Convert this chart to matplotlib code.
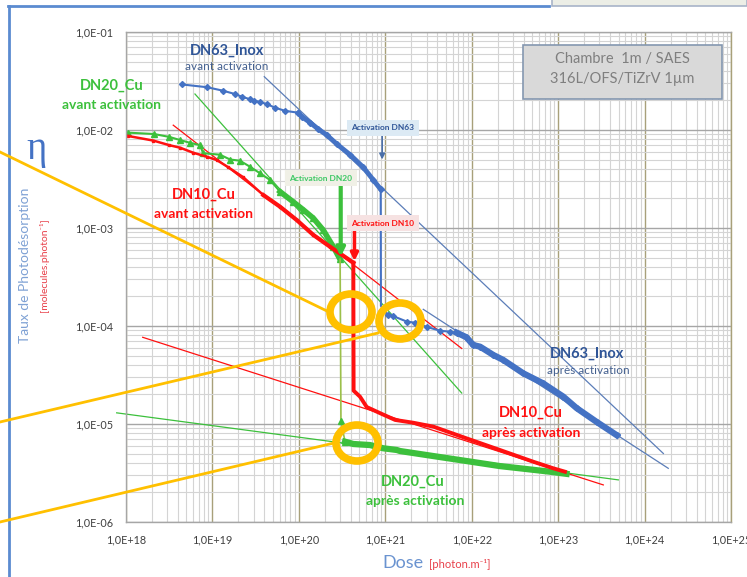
import matplotlib
matplotlib.use("Agg")
import matplotlib.pyplot as plt
import matplotlib.ticker as ticker
from matplotlib.patches import Ellipse, Rectangle
from matplotlib.lines import Line2D
import numpy as np

plt.rcParams['font.family'] = ['Lato', 'DejaVu Sans']

# ---------------------------------------------------------------
# Data (dose in photon/m, eta in molecules/photon)
# ---------------------------------------------------------------
dn63_avant_x = [4.4e18, 8.7e18, 1.32e19, 1.82e19, 2.18e19, 2.72e19, 3.05e19, 3.55e19,
                4.24e19, 5.3e19, 6.9e19, 9.9e19, 1.08e20, 1.35e20, 1.68e20, 2.1e20,
                2.74e20, 3.91e20, 5.57e20, 7.27e20, 8.85e20]
dn63_avant_y = [2.92e-2, 2.73e-2, 2.52e-2, 2.33e-2, 2.19e-2, 2.06e-2, 1.99e-2, 1.93e-2,
                1.84e-2, 1.69e-2, 1.57e-2, 1.50e-2, 1.37e-2, 1.19e-2, 1.02e-2, 8.9e-3,
                7.2e-3, 5.6e-3, 4.16e-3, 3.09e-3, 2.48e-3]
dn63_apres_x = [8.9e20, 1.08e21, 1.24e21, 1.77e21, 2.21e21, 3.02e21, 4.3e21, 5.6e21,
                6.7e21, 8.7e21, 1.04e22, 1.25e22, 1.78e22, 2.32e22, 3.95e22, 6.7e22,
                1.15e23, 1.64e23, 2.79e23, 4.75e23]
dn63_apres_y = [1.6e-4, 1.29e-4, 1.26e-4, 1.11e-4, 1.08e-4, 9.8e-5, 8.95e-5, 8.75e-5,
                8.55e-5, 7.67e-5, 6.4e-5, 6.15e-5, 5.06e-5, 4.5e-5, 3.29e-5, 2.6e-5,
                1.9e-5, 1.45e-5, 1.05e-5, 7.7e-6]

dn20_avant_x = [1.05e18, 2.11e18, 3.17e18, 4.22e18, 5.5e18, 7.2e18, 7.8e18, 1.22e19,
                1.6e19, 2.08e19, 2.72e19, 3.55e19, 4.64e19, 6.05e19, 8.6e19, 1.13e20,
                1.47e20, 1.92e20, 2.5e20, 2.99e20]
dn20_avant_y = [9.4e-3, 9.1e-3, 8.5e-3, 7.9e-3, 7.4e-3, 7.0e-3, 5.8e-3, 5.6e-3,
                5.0e-3, 4.86e-3, 4.22e-3, 3.62e-3, 3.09e-3, 2.35e-3, 1.85e-3, 1.53e-3,
                1.26e-3, 9.5e-4, 6.45e-4, 4.8e-4]
dn20_apres_x = [3.0e20, 3.07e20, 3.42e20, 4.27e20, 6.65e20, 9.5e20, 1.36e21, 1.48e21,
                3.59e21, 8.7e21, 2.12e22, 3.62e22, 8.05e22, 1.25e23]
dn20_apres_y = [4.8e-4, 1.08e-5, 6.6e-6, 6.25e-6, 6.1e-6, 5.65e-6, 5.43e-6, 5.3e-6,
                4.71e-6, 4.19e-6, 3.72e-6, 3.53e-6, 3.26e-6, 3.1e-6]

dn10_avant_x = [1.05e18, 2.07e18, 3.17e18, 4.22e18, 6.0e18, 8.6e18, 1.12e19, 1.53e19,
                2.28e19, 3.88e19, 6.05e19, 9.4e19, 1.47e20, 2.29e20, 4.27e20]
dn10_avant_y = [8.7e-3, 7.8e-3, 7.0e-3, 6.6e-3, 5.86e-3, 5.34e-3, 4.94e-3, 4.16e-3,
                3.29e-3, 2.17e-3, 1.65e-3, 1.21e-3, 8.5e-4, 6.45e-4, 4.43e-4]
dn10_apres_x = [4.27e20, 4.3e20, 5.1e20, 6.1e20, 8.7e20, 1.3e21, 2.11e21, 3.6e21,
                8.7e21, 2.12e22, 5.16e22, 8.8e22, 1.2e23]
dn10_apres_y = [4.43e-4, 2.19e-5, 1.9e-5, 1.49e-5, 1.29e-5, 1.1e-5, 1.03e-5, 9.4e-6,
                7.14e-6, 5.43e-6, 4.12e-6, 3.53e-6, 3.26e-6]

# power-law trend lines (end points)
fit_dn63_avant = ([3.98e19, 1.65e24], [3.5e-2, 5.0e-6])
fit_dn63_apres = ([2.75e21, 1.88e24], [1.48e-4, 3.53e-6])
fit_dn20_avant = ([6.28e18, 7.66e21], [2.33e-2, 2.07e-5])
fit_dn20_apres = ([7.8e17, 4.97e23], [1.30e-5, 2.69e-6])
fit_dn10_avant = ([3.52e18, 7.66e21], [1.12e-2, 5.9e-5])
fit_dn10_apres = ([1.56e18, 3.33e23], [7.67e-5, 2.39e-6])

BLUE = '#4472C4'
GREEN = '#3CC03C'
RED = '#FF1010'
ORANGE = '#FFC000'

W, H = 747, 577
fig = plt.figure(figsize=(W / 100, H / 100), dpi=100)


def fx(x):
    return x / W


def fy(y):
    return 1 - y / H


ax = fig.add_axes([fx(126), fy(522), fx(731) - fx(126), fy(32) - fy(522)])
ax.set_xscale('log')
ax.set_yscale('log')
ax.set_xlim(1e18, 1e25)
ax.set_ylim(1e-6, 1e-1)

ax.xaxis.set_major_locator(ticker.LogLocator(base=10, numticks=20))
ax.yaxis.set_major_locator(ticker.LogLocator(base=10, numticks=20))
ax.xaxis.set_minor_locator(ticker.LogLocator(base=10, subs=np.arange(2, 10), numticks=20))
ax.yaxis.set_minor_locator(ticker.LogLocator(base=10, subs=np.arange(2, 10), numticks=20))
fmt = ticker.FuncFormatter(lambda v, p: '1,0E%+03d' % int(round(np.log10(v))))
ax.xaxis.set_major_formatter(fmt)
ax.yaxis.set_major_formatter(fmt)
ax.xaxis.set_minor_formatter(ticker.NullFormatter())
ax.yaxis.set_minor_formatter(ticker.NullFormatter())
ax.tick_params(which='both', length=0, labelsize=7.8, colors='#404040')
ax.tick_params(axis='x', pad=9)
ax.tick_params(axis='y', pad=9)

ax.grid(True, which='minor', color='#D4D4D4', lw=0.8)
ax.grid(True, which='major', axis='y', color='#A6A6A6', lw=1.0)
ax.grid(True, which='major', axis='x', color='#A8A07A', lw=1.0)
ax.set_axisbelow(True)
for s in ax.spines.values():
    s.set_color('#A6A6A6')
    s.set_linewidth(1.0)
ax.spines['right'].set_color('#A8A07A')

# trend lines
ax.plot(*fit_dn63_avant, color='#5B7DB8', lw=0.9)
ax.plot(*fit_dn63_apres, color='#5B7DB8', lw=0.9)
ax.plot(*fit_dn20_avant, color=GREEN, lw=0.9)
ax.plot(*fit_dn20_apres, color=GREEN, lw=0.9, clip_on=False)
ax.plot(*fit_dn10_avant, color=RED, lw=0.9)
ax.plot(*fit_dn10_apres, color=RED, lw=0.9)

# DN63 Inox
ax.plot(dn63_avant_x, dn63_avant_y, color=BLUE, lw=1.5, marker='D', ms=3)
ax.plot(dn63_avant_x[11:], dn63_avant_y[11:], color=BLUE, lw=3.5)
ax.plot([dn63_avant_x[-1]] + dn63_apres_x, [dn63_avant_y[-1]] + dn63_apres_y,
        color=BLUE, lw=1.5, marker='D', ms=3, markevery=list(range(2, 21)))
ax.plot(dn63_apres_x[8:], dn63_apres_y[8:], color=BLUE, lw=4.5)

# DN20 Cu
ax.plot(dn20_avant_x, dn20_avant_y, color=GREEN, lw=1.5, marker='^', ms=5)
ax.plot(dn20_avant_x[13:], dn20_avant_y[13:], color=GREEN, lw=4)
ax.plot(dn20_apres_x[:3], dn20_apres_y[:3], color='#9CC04A', lw=1.2)
ax.plot(dn20_apres_x[1:3], dn20_apres_y[1:3], color=GREEN, lw=0, marker='^', ms=5)
ax.plot(dn20_apres_x[2:], dn20_apres_y[2:], color=GREEN, lw=4.5)

# DN10 Cu
ax.plot(dn10_avant_x, dn10_avant_y, color=RED, lw=1.8, marker='s', ms=2)
ax.plot(dn10_avant_x[9:], dn10_avant_y[9:], color=RED, lw=3)
ax.plot(dn10_apres_x, dn10_apres_y, color=RED, lw=2.8)

# arrows for activations
arrow_kw = dict(arrowstyle='-|>', shrinkA=0, shrinkB=0)
ax.annotate('', xy=(9.2e20, 5.0e-3), xytext=(9.2e20, 9.5e-3),
            arrowprops=dict(color='#4A6FA8', lw=1.2, mutation_scale=8, **arrow_kw))
ax.annotate('', xy=(3.05e20, 5.1e-4), xytext=(3.05e20, 3.0e-3),
            arrowprops=dict(color=GREEN, lw=3, mutation_scale=12, **arrow_kw))
ax.annotate('', xy=(4.4e20, 4.6e-4), xytext=(4.4e20, 1.0e-3),
            arrowprops=dict(color=RED, lw=2.5, mutation_scale=11, **arrow_kw))

# activation labels
fig.text(fx(383), fy(128), 'Activation DN63', fontsize=6, fontweight='bold', color='#2F5597',
         ha='center', va='center',
         bbox=dict(boxstyle='square,pad=0.5', fc='#DCEAF4', ec='none'))
fig.text(fx(321), fy(178), 'Activation DN20', fontsize=6, fontweight='bold', color='#3CC864',
         ha='center', va='center',
         bbox=dict(boxstyle='square,pad=0.5', fc='#F0F0E6', ec='none'))
fig.text(fx(383), fy(223), 'Activation DN10', fontsize=6, fontweight='bold', color=RED,
         ha='center', va='center',
         bbox=dict(boxstyle='square,pad=0.5', fc='#F6E2E2', ec='none'))

# series labels
fig.text(fx(227), fy(51), 'DN63_Inox', fontsize=10.5, fontweight='bold', color='#2F5597',
         ha='center', va='center')
fig.text(fx(227), fy(67), 'avant activation', fontsize=8.5, color='#44608F',
         ha='center', va='center')
fig.text(fx(112), fy(86), 'DN20_Cu', fontsize=10.5, fontweight='bold', color=GREEN,
         ha='center', va='center')
fig.text(fx(112), fy(105), 'avant activation', fontsize=10, fontweight='bold', color=GREEN,
         ha='center', va='center')
fig.text(fx(204), fy(195), 'DN10_Cu', fontsize=10.5, fontweight='bold', color=RED,
         ha='center', va='center')
fig.text(fx(204), fy(214), 'avant activation', fontsize=10, fontweight='bold', color=RED,
         ha='center', va='center')
fig.text(fx(587), fy(354), 'DN63_Inox', fontsize=10.5, fontweight='bold', color='#2F5597',
         ha='center', va='center')
fig.text(fx(588), fy(371), 'après activation', fontsize=8.5, color='#44608F',
         ha='center', va='center')
fig.text(fx(531), fy(413), 'DN10_Cu', fontsize=10.5, fontweight='bold', color=RED,
         ha='center', va='center')
fig.text(fx(531), fy(433), 'après activation', fontsize=10, fontweight='bold', color=RED,
         ha='center', va='center')
fig.text(fx(413), fy(482), 'DN20_Cu', fontsize=10.5, fontweight='bold', color=GREEN,
         ha='center', va='center')
fig.text(fx(415), fy(501), 'après activation', fontsize=10, fontweight='bold', color=GREEN,
         ha='center', va='center')

# chamber box
fig.patches.append(Rectangle((fx(523), fy(99)), fx(722) - fx(523), fy(45) - fy(99),
                             transform=fig.transFigure, fc='#D9D9D9', ec='#8497B0', lw=1.2))
fig.text(fx(622), fy(59), 'Chambre  1m / SAES', fontsize=10.5, color='#7F7F7F',
         ha='center', va='center')
fig.text(fx(622), fy(79), '316L/OFS/TiZrV 1µm', fontsize=10.5, color='#7F7F7F',
         ha='center', va='center')

# axis titles
fig.text(fx(37), fy(150), 'η', fontsize=28, color=BLUE, family='Liberation Serif',
         ha='center', va='center')
fig.text(fx(25), fy(265), 'Taux de Photodésorption', fontsize=10, color='#7EA1D4',
         rotation=90, ha='center', va='center')
fig.text(fx(44), fy(265), '[molecules.photon⁻¹]', fontsize=7.5, color='#E8404A',
         rotation=90, ha='center', va='center')
fig.text(fx(424), fy(563), 'Dose', fontsize=13, color='#6A93D0', ha='right', va='center')
fig.text(fx(429), fy(564), '[photon.m⁻¹]', fontsize=8, color='#E8404A', ha='left', va='center')

# slide frame pieces
fig.lines.append(Line2D([fx(8), fx(549)], [fy(6), fy(6)], transform=fig.transFigure,
                        color='#5B8BD0', lw=2))
fig.lines.append(Line2D([fx(9), fx(9)], [fy(6), fy(577)], transform=fig.transFigure,
                        color='#5B8BD0', lw=2))
fig.patches.append(Rectangle((fx(552), fy(6)), fx(747) - fx(552), fy(-5) - fy(6),
                             transform=fig.transFigure, fc='#ECEEE6', ec='#A8B4C8', lw=1.2))

# highlight circles and connector lines
for cx, cy in [(351, 312), (400, 321), (357, 443)]:
    fig.patches.append(Ellipse((fx(cx), fy(cy)), fx(42), fy(0) - fy(36),
                               transform=fig.transFigure, fill=False, ec=ORANGE, lw=5.5))
for (x0, y0), (x1, y1) in [((0, 152), (329, 312)), ((0, 422), (378, 333)),
                           ((0, 522), (334, 443))]:
    fig.lines.append(Line2D([fx(x0), fx(x1)], [fy(y0), fy(y1)], transform=fig.transFigure,
                            color=ORANGE, lw=2))

fig.savefig('out.png', dpi=100)
